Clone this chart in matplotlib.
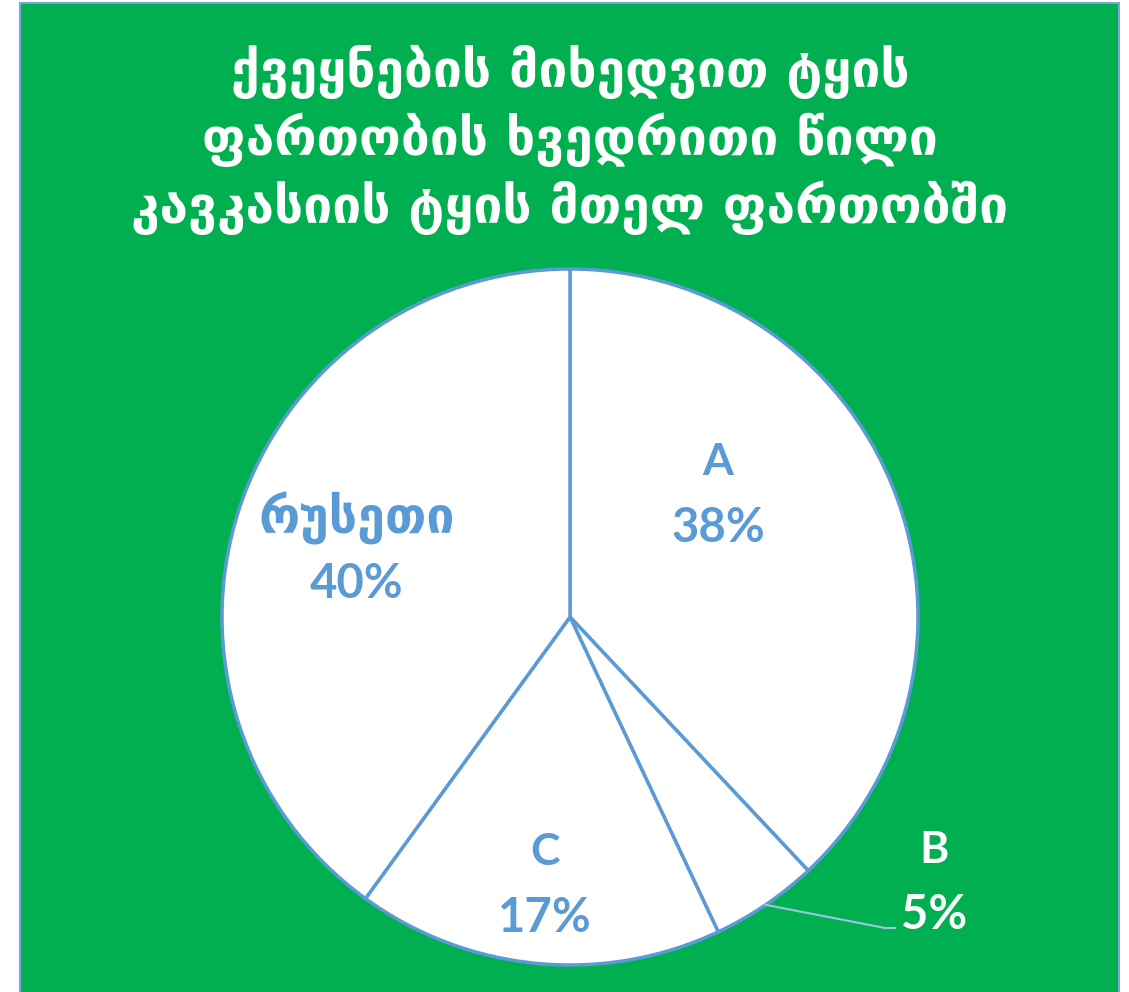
import matplotlib.pyplot as plt
from matplotlib.patches import Rectangle
import numpy as np

# data
labels = ['A', 'B', 'C', 'რუსეთი']
shares = [38, 5, 17, 40]
title_lines = ['ქვეყნების მიხედვით ტყის',
               'ფართობის ხვედრითი წილი',
               'კავკასიის ტყის მთელ ფართობში']

W, H = 1129, 992
green = '#00b050'
blue = '#5b9bd5'

fig = plt.figure(figsize=(W / 100, H / 100), dpi=100)
ax = fig.add_axes([0, 0, 1, 1])

# green chart area
ax.add_patch(Rectangle((20, -10), 1099, H - 3 + 10, facecolor=green,
                       edgecolor='#7aa6dc', lw=1.5, zorder=0))

cx, cy, r = 570, H - 617, 348
wedges, _ = ax.pie(shares, center=(cx, cy), radius=r, startangle=90,
                   counterclock=False, frame=True,
                   wedgeprops=dict(facecolor='white', edgecolor=blue, linewidth=2.5))
ax.set_xlim(0, W)
ax.set_ylim(0, H)
ax.set_aspect('equal')
ax.axis('off')

# title
for i, line in enumerate(title_lines):
    ax.text(570, H - 72 - i * 68, line, ha='center', va='center',
            color='white', fontsize=37, fontweight='bold', family='DejaVu Sans')

# labels inside slices
pos = {'A': (718, 495), 'C': (545, 885), 'რუსეთი': (357, 551)}
for lab, val in zip(labels, shares):
    if lab in pos:
        x, y = pos[lab]
        if lab == 'რუსეთი':
            ax.text(x, H - y + 33, lab, ha='center', va='center', color=blue,
                    fontsize=36, fontweight='bold', family='DejaVu Sans')
        else:
            ax.text(x, H - y + 33, lab, ha='center', va='center', color=blue,
                    fontsize=32, fontweight='bold', family=['Lato', 'DejaVu Sans'])
        ax.text(x, H - y - 33, f'{val}%', ha='center', va='center', color=blue,
                fontsize=34, fontweight='bold', family=['Lato', 'DejaVu Sans'])

# B label outside with leader line
b = wedges[1]
mid = np.deg2rad((b.theta1 + b.theta2) / 2)
px, py = cx + r * np.cos(mid), cy + r * np.sin(mid)
ax.plot([px, 885, 895], [py, H - 928, H - 928], color='#9dc3e6', lw=1.5, zorder=3)
ax.text(934, H - 850, labels[1], ha='center', va='center', color='white',
        fontsize=32, fontweight='bold', family=['Lato', 'DejaVu Sans'])
ax.text(934, H - 915, f'{shares[1]}%', ha='center', va='center', color='white',
        fontsize=34, fontweight='bold', family=['Lato', 'DejaVu Sans'])

fig.savefig('out.png', dpi=100, facecolor='white')
